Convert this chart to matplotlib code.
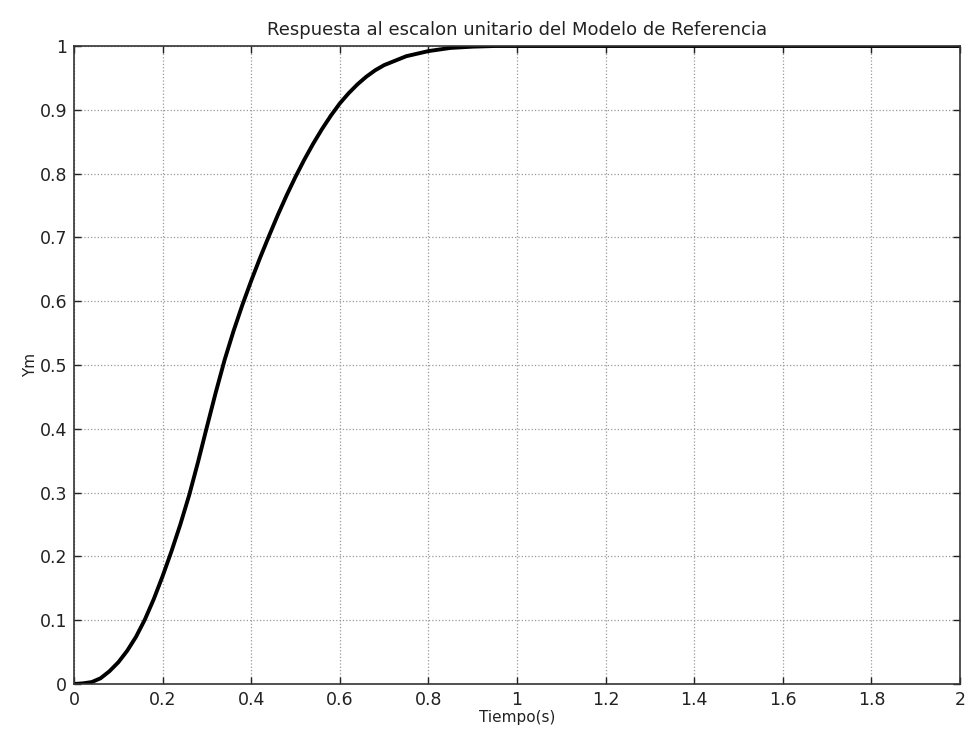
import matplotlib
matplotlib.use("Agg")
import matplotlib.pyplot as plt

# Data (step response of reference model)
tiempo = [0.0, 0.02, 0.04, 0.06, 0.08, 0.10, 0.12, 0.14, 0.16, 0.18, 0.20,
          0.22, 0.24, 0.26, 0.28, 0.30, 0.32, 0.34, 0.36, 0.38, 0.40, 0.42,
          0.44, 0.46, 0.48, 0.50, 0.52, 0.54, 0.56, 0.58, 0.60, 0.62, 0.64,
          0.66, 0.68, 0.70, 0.75, 0.80, 0.85, 0.90, 0.95, 1.00, 1.50, 2.00]
ym = [0.0, 0.001, 0.003, 0.009, 0.020, 0.034, 0.052, 0.074, 0.101, 0.133, 0.169,
      0.208, 0.250, 0.296, 0.348, 0.403, 0.457, 0.508, 0.553, 0.594, 0.632, 0.668,
      0.702, 0.735, 0.766, 0.795, 0.822, 0.847, 0.870, 0.891, 0.910, 0.926, 0.940,
      0.952, 0.962, 0.970, 0.984, 0.992, 0.997, 0.999, 1.000, 1.000, 1.000, 1.000]

xticks = [0, 0.2, 0.4, 0.6, 0.8, 1, 1.2, 1.4, 1.6, 1.8, 2]
xticklabels = ["0", "0.2", "0.4", "0.6", "0.8", "1", "1.2", "1.4", "1.6", "1.8", "2"]
yticks = [0, 0.1, 0.2, 0.3, 0.4, 0.5, 0.6, 0.7, 0.8, 0.9, 1]
yticklabels = ["0", "0.1", "0.2", "0.3", "0.4", "0.5", "0.6", "0.7", "0.8", "0.9", "1"]

plt.rcParams['font.family'] = ['DejaVu Sans']

fig = plt.figure(figsize=(9.66, 7.33), dpi=100)
ax = fig.add_axes([74/966, 1 - 684/733, (960 - 74)/966, (684 - 46)/733])

ax.plot(tiempo, ym, color='black', linewidth=2.8, solid_joinstyle='round')

ax.set_xlim(0, 2)
ax.set_ylim(0, 1)
ax.set_xticks(xticks)
ax.set_xticklabels(xticklabels)
ax.set_yticks(yticks)
ax.set_yticklabels(yticklabels)
ax.tick_params(direction='in', length=5, width=1, labelsize=12.5,
               top=True, right=True, colors='#222222', pad=5)
ax.grid(True, linestyle=':', color='#999999', linewidth=0.9)
for s in ax.spines.values():
    s.set_color('#333333')
    s.set_linewidth(1.2)

ax.set_title("Respuesta al escalon unitario del Modelo de Referencia",
             fontsize=13, pad=8, color='#222222')
ax.set_xlabel("Tiempo(s)", fontsize=11, labelpad=1, color='#222222')
ax.set_ylabel("Ym", fontsize=11, labelpad=1, color='#222222')

fig.savefig("out.png", dpi=100)
